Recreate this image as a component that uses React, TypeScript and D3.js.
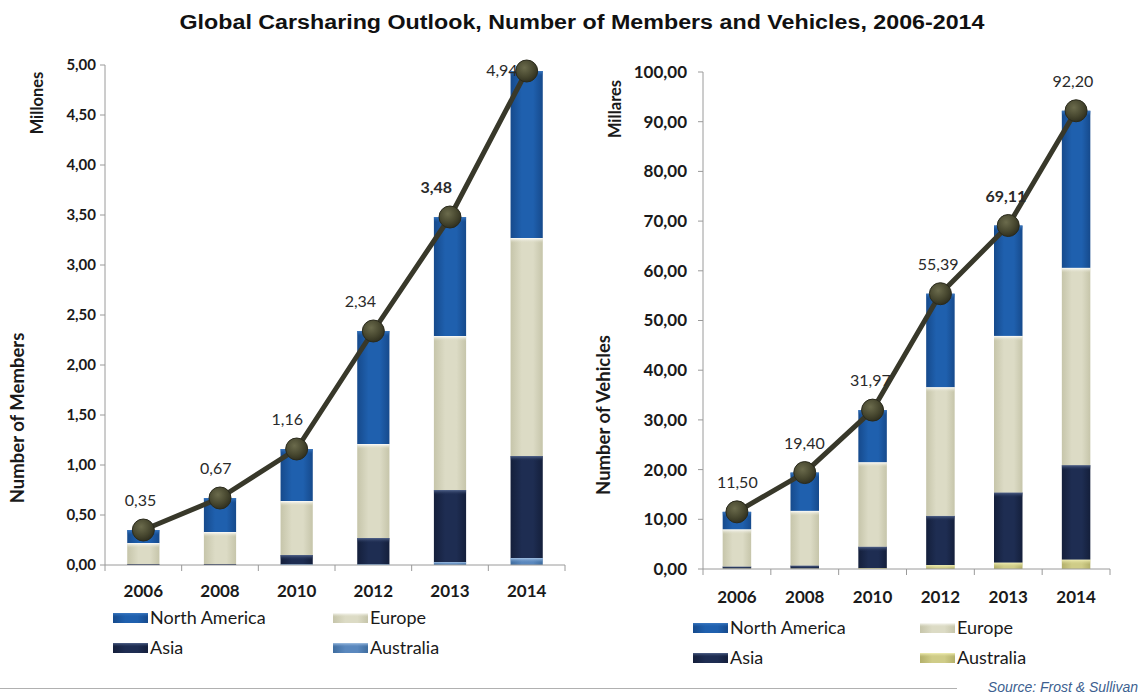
import React from 'react';
import * as d3 from 'd3';

const categories = ['2006', '2008', '2010', '2012', '2013', '2014'];

// members, millions
const memberTotals = [0.35, 0.67, 1.16, 2.34, 3.48, 4.94];
const memberNorthAmerica = [0.13, 0.34, 0.52, 1.13, 1.19, 1.67];
const memberEurope = [0.21, 0.32, 0.54, 0.94, 1.54, 2.18];
const memberAsia = [0.01, 0.01, 0.09, 0.26, 0.72, 1.02];
const memberAustralia = [0.0, 0.0, 0.01, 0.01, 0.03, 0.07];
const memberTicks = [0, 0.5, 1, 1.5, 2, 2.5, 3, 3.5, 4, 4.5, 5];

// vehicles, thousands
const vehicleTotals = [11.5, 19.4, 31.97, 55.39, 69.11, 92.2];
const vehicleNorthAmerica = [3.5, 7.7, 10.47, 18.79, 22.21, 31.6];
const vehicleEurope = [7.5, 11.0, 17.0, 25.9, 31.5, 39.7];
const vehicleAsia = [0.4, 0.6, 4.3, 9.9, 14.1, 19.0];
const vehicleAustralia = [0.1, 0.1, 0.2, 0.8, 1.3, 1.9];
const vehicleTicks = [0, 10, 20, 30, 40, 50, 60, 70, 80, 90, 100];

const boldLabelYear = '2013';

const esLocale = d3.formatLocale({ decimal: ',', thousands: '.', grouping: [3], currency: ['', ''] });
const fmt = esLocale.format('.2f');

const FONT = 'Lato, "Open Sans", sans-serif';

interface SeriesStyle {
  key: string;
  label: string;
  base: string;
  dark: string;
  top: string;
}

interface PanelProps {
  id: string;
  x0: number;
  x1: number;
  yTop: number;
  yZero: number;
  maxValue: number;
  ticks: number[];
  totals: number[];
  northAmerica: number[];
  europe: number[];
  asia: number[];
  australia: number[];
  australiaStyle: { base: string; dark: string; top: string };
  unitTitle: string;
  unitTitlePos: [number, number];
  axisTitle: string;
  axisTitlePos: [number, number];
  tickLabelX: number;
  tickFontSize: number;
  catLabelY: number;
  catFontSize: number;
  labelShift: number;
  legendX: [number, number];
  legendY: [number, number];
}

function Panel(p: PanelProps) {
  const styles: SeriesStyle[] = [
    { key: 'australia', label: 'Australia', ...p.australiaStyle },
    { key: 'asia', label: 'Asia', base: '#1e2d52', dark: '#141f3b', top: '#56688f' },
    { key: 'europe', label: 'Europe', base: '#dcdbc5', dark: '#c6c5aa', top: '#ffffff' },
    { key: 'northAmerica', label: 'North America', base: '#1f60ae', dark: '#164a8c', top: '#3f7cc4' },
  ];

  const rows = categories.map((c, i) => ({
    cat: c,
    australia: p.australia[i],
    asia: p.asia[i],
    europe: p.europe[i],
    northAmerica: p.northAmerica[i],
  }));

  const stacked = d3.stack<any>().keys(styles.map(s => s.key))(rows);

  const x = d3.scaleBand<string>()
    .domain(categories)
    .range([p.x0, p.x1])
    .paddingInner(0.58)
    .paddingOuter(0.29);
  const step = x.step();
  const y = d3.scaleLinear().domain([0, p.maxValue]).range([p.yZero, p.yTop]);
  const cx = (c: string) => (x(c) ?? 0) + x.bandwidth() / 2;

  const pts = categories.map((c, i) => [cx(c), y(p.totals[i])] as [number, number]);
  const line = d3.line<[number, number]>().x(d => d[0]).y(d => d[1]);

  const angle = (a: [number, number], b: [number, number]) =>
    Math.abs(Math.atan2(b[1] - a[1], b[0] - a[0])) * 180 / Math.PI;

  // labels sit above the points, nudged left where the line is steep
  const labelPos = pts.map((pt, i) => {
    const angs: number[] = [];
    if (i > 0) angs.push(angle(pts[i - 1], pt));
    if (i < pts.length - 1) angs.push(angle(pt, pts[i + 1]));
    const avg = d3.mean(angs) ?? 0;
    const baseline = pt[1] - 24;
    if (baseline < 58) {
      return { x: pt[0] - 9, y: pt[1] + 5, anchor: 'end' };
    }
    return { x: pt[0] + 4 - p.labelShift * avg, y: baseline, anchor: 'middle' };
  });

  const legendItems = [
    [styles[3], 0, 0],
    [styles[2], 1, 0],
    [styles[1], 0, 1],
    [styles[0], 1, 1],
  ] as [SeriesStyle, number, number][];

  return (
    <g>
      <defs>
        {styles.map(s => (
          <linearGradient key={s.key} id={`${p.id}-${s.key}`} x1="0" x2="1" y1="0" y2="0">
            <stop offset="0" stopColor={s.dark} />
            <stop offset="0.35" stopColor={s.base} />
            <stop offset="0.7" stopColor={s.base} />
            <stop offset="1" stopColor={s.dark} />
          </linearGradient>
        ))}
        {styles.map(s => (
          <linearGradient key={s.key + 'h'} id={`${p.id}-${s.key}-top`} x1="0" x2="0" y1="0" y2="1">
            <stop offset="0" stopColor={s.top} stopOpacity={0.95} />
            <stop offset="1" stopColor={s.base} stopOpacity={0} />
          </linearGradient>
        ))}
        <radialGradient id={`${p.id}-marker`} cx="0.4" cy="0.35" r="0.7">
          <stop offset="0" stopColor="#6b6b4c" />
          <stop offset="0.6" stopColor="#47472f" />
          <stop offset="1" stopColor="#2c2c1d" />
        </radialGradient>
      </defs>

      {/* stacked bars */}
      {stacked.map((layer, li) => (
        <g key={layer.key}>
          {layer.map((d, i) => {
            const top = y(d[1]);
            const h = y(d[0]) - top;
            if (h <= 0) return null;
            const bx = x(categories[i]) ?? 0;
            return (
              <g key={i}>
                <rect x={bx} y={top} width={x.bandwidth()} height={h} fill={`url(#${p.id}-${styles[li].key})`} />
                <rect x={bx} y={top} width={x.bandwidth()} height={Math.min(5, h)} fill={`url(#${p.id}-${styles[li].key}-top)`} />
              </g>
            );
          })}
        </g>
      ))}

      {/* y axis */}
      <line x1={p.x0} x2={p.x0} y1={y(p.maxValue)} y2={p.yZero} stroke="#9a9a9a" />
      {p.ticks.map(t => (
        <g key={t}>
          <line x1={p.x0 - 5} x2={p.x0} y1={y(t)} y2={y(t)} stroke="#9a9a9a" />
          <text x={p.tickLabelX} y={y(t) + p.tickFontSize * 0.35} textAnchor="end" fontFamily={FONT} fontWeight="bold" fontSize={p.tickFontSize} fill="#1a1a1a">
            {fmt(t)}
          </text>
        </g>
      ))}

      {/* x axis */}
      <line x1={p.x0} x2={p.x1} y1={p.yZero} y2={p.yZero} stroke="#9a9a9a" />
      {d3.range(categories.length + 1).map(i => (
        <line key={i} x1={p.x0 + i * step} x2={p.x0 + i * step} y1={p.yZero} y2={p.yZero + 6} stroke="#9a9a9a" />
      ))}
      {categories.map(c => (
        <text key={c} x={cx(c)} y={p.catLabelY} textAnchor="middle" fontFamily={FONT} fontWeight="bold" fontSize={p.catFontSize} fill="#1a1a1a">
          {c}
        </text>
      ))}

      {/* total line */}
      <path d={line(pts) ?? ''} fill="none" stroke="#38382a" strokeWidth={5} strokeLinejoin="round" />
      {pts.map((pt, i) => (
        <text
          key={'l' + i}
          x={labelPos[i].x}
          y={labelPos[i].y}
          textAnchor={labelPos[i].anchor as any}
          fontFamily={FONT}
          fontSize={16}
          fontWeight={categories[i] === boldLabelYear ? 'bold' : 'normal'}
          fill="#2a2a2a"
        >
          {fmt(p.totals[i])}
        </text>
      ))}
      {pts.map((pt, i) => (
        <circle key={i} cx={pt[0]} cy={pt[1]} r={11} fill={`url(#${p.id}-marker)`} stroke="#2a2a1c" strokeWidth={1} />
      ))}

      {/* axis titles */}
      <text transform={`translate(${p.unitTitlePos[0]},${p.unitTitlePos[1]}) rotate(-90)`} textAnchor="middle" fontFamily={FONT} fontWeight="bold" fontSize={16.5} fill="#1a1a1a">
        {p.unitTitle}
      </text>
      <text transform={`translate(${p.axisTitlePos[0]},${p.axisTitlePos[1]}) rotate(-90)`} textAnchor="middle" fontFamily={FONT} fontWeight="bold" fontSize={18.5} fill="#1a1a1a">
        {p.axisTitle}
      </text>

      {/* legend */}
      {legendItems.map(([s, col, row]) => {
        const lx = p.legendX[col];
        const ly = p.legendY[row];
        return (
          <g key={s.key}>
            <rect x={lx} y={ly - 5} width={35} height={10} fill={`url(#${p.id}-${s.key})`} />
            <rect x={lx} y={ly - 5} width={35} height={4} fill={`url(#${p.id}-${s.key}-top)`} />
            <text x={lx + 37} y={ly + 6} fontFamily={FONT} fontSize={18} fill="#1a1a1a">
              {s.label}
            </text>
          </g>
        );
      })}
    </g>
  );
}

export default function App() {
  return (
    <svg
      width={1140}
      height={695}
      style={{ position: 'absolute', left: 0, top: 0, display: 'block', background: '#fff' }}
    >
      <rect width={1140} height={695} fill="#fff" />
      <text
        x={582}
        y={29}
        textAnchor="middle"
        fontFamily='"Liberation Sans Narrow", "Liberation Sans", Arial, sans-serif'
        fontWeight="bold"
        fontSize={20}
        textLength={805}
        lengthAdjust="spacingAndGlyphs"
        fill="#111"
      >
        Global Carsharing Outlook, Number of Members and Vehicles, 2006-2014
      </text>

      <Panel
        id="members"
        x0={105}
        x1={565}
        yTop={65}
        yZero={565}
        maxValue={5}
        ticks={memberTicks}
        totals={memberTotals}
        northAmerica={memberNorthAmerica}
        europe={memberEurope}
        asia={memberAsia}
        australia={memberAustralia}
        australiaStyle={{ base: '#5a88be', dark: '#3f6d9f', top: '#a9c6e6' }}
        unitTitle="Millones"
        unitTitlePos={[43, 103]}
        axisTitle="Number of Members"
        axisTitlePos={[24, 418]}
        tickLabelX={96}
        tickFontSize={15}
        catLabelY={597}
        catFontSize={17}
        labelShift={0.3}
        legendX={[113, 333]}
        legendY={[618, 648]}
      />

      <Panel
        id="vehicles"
        x0={703}
        x1={1110}
        yTop={72}
        yZero={569}
        maxValue={100}
        ticks={vehicleTicks}
        totals={vehicleTotals}
        northAmerica={vehicleNorthAmerica}
        europe={vehicleEurope}
        asia={vehicleAsia}
        australia={vehicleAustralia}
        australiaStyle={{ base: '#cfcc88', dark: '#b3b06a', top: '#f4f2b8' }}
        unitTitle="Millares"
        unitTitlePos={[621, 109]}
        axisTitle="Number of Vehicles"
        axisTitlePos={[610, 415]}
        tickLabelX={687}
        tickFontSize={17}
        catLabelY={603}
        catFontSize={17}
        labelShift={0.12}
        legendX={[693, 920]}
        legendY={[628, 658]}
      />

      <line x1={0} x2={957} y1={688.5} y2={688.5} stroke="#b0b0b0" />
      <text
        x={1138}
        y={692}
        textAnchor="end"
        fontFamily='"Liberation Sans", Arial, sans-serif'
        fontStyle="italic"
        fontSize={14}
        fill="#3d5f90"
      >
        Source: Frost &amp; Sullivan
      </text>
    </svg>
  );
}
